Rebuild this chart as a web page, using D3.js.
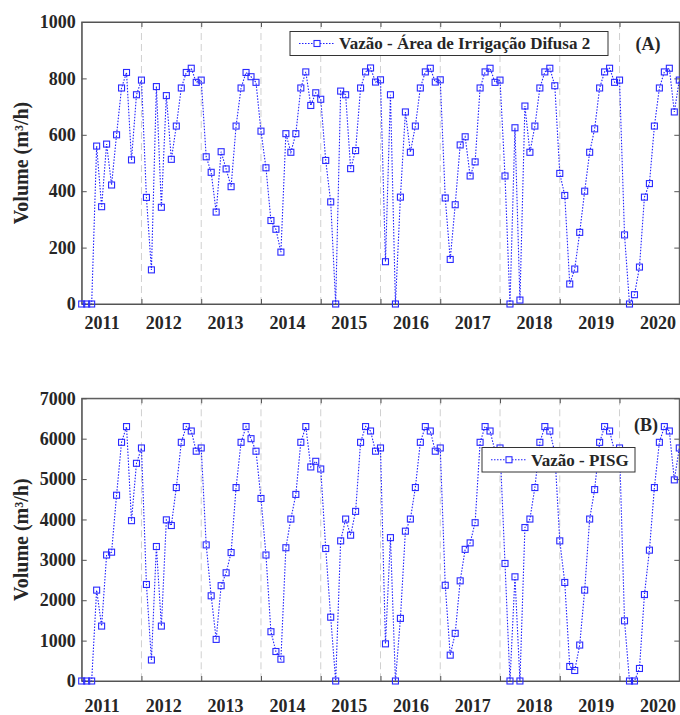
<!DOCTYPE html>
<html>
<head>
<meta charset="utf-8">
<script src="https://cdn.jsdelivr.net/npm/d3@7"></script>
<style>
  body { margin: 0; background: #fff; }
  text { font-family: "Liberation Serif", "Times New Roman", serif; font-weight: bold; fill: #262626; }
</style>
</head>
<body>
<div id="chart"></div>
<script>
// monthly flow, 121 months starting late 2010
const flowDifusa = [
  0, 0, 0, 560, 345, 567, 422, 600, 766, 821,
  511, 742, 794, 378, 121, 771, 343, 739, 513, 631,
  766, 821, 836, 786, 794, 522, 467, 326, 540, 479,
  416, 631, 766, 821, 806, 786, 613, 483, 296, 265,
  184, 604, 538, 604, 766, 823, 704, 749, 726, 509,
  362, 0, 755, 742, 480, 544, 766, 823, 837, 787,
  795, 150, 742, 0, 379, 681, 538, 631, 766, 823,
  836, 787, 795, 376, 158, 352, 564, 593, 454, 504,
  766, 823, 836, 786, 794, 454, 0, 625, 14, 702,
  538, 631, 766, 823, 836, 774, 463, 385, 71, 124,
  254, 400, 538, 621, 766, 823, 836, 786, 794, 245,
  0, 33, 131, 379, 427, 631, 766, 823, 836, 681,
  794
];
const flowPISG = [
  0, 0, 0, 2250, 1360, 3120, 3190, 4600, 5910, 6300,
  3970, 5390, 5770, 2390, 520, 3330, 1360, 3990, 3850, 4790,
  5910, 6300, 6190, 5690, 5770, 3370, 2110, 1030, 2360, 2680,
  3180, 4790, 5910, 6300, 6000, 5690, 4520, 3120, 1220, 730,
  540, 3300, 4010, 4620, 5910, 6300, 5300, 5440, 5250, 3280,
  1580, 0, 3470, 4010, 3610, 4200, 5910, 6300, 6190, 5690,
  5770, 920, 3550, 0, 1550, 3710, 4010, 4790, 5910, 6300,
  6190, 5690, 5770, 2370, 640, 1180, 2480, 3260, 3420, 3920,
  5910, 6300, 6190, 5690, 5770, 2910, 0, 2580, 0, 3800,
  4010, 4790, 5910, 6300, 6190, 5650, 3470, 2440, 360, 260,
  890, 2250, 4010, 4740, 5910, 6300, 6190, 5690, 5770, 1490,
  0, 0, 310, 2140, 3240, 4790, 5910, 6300, 6190, 4980,
  5770
];
const years = ["2011","2012","2013","2014","2015","2016","2017","2018","2019","2020"];
const yearLabelMonths = [4, 16.4, 28.8, 41.2, 53.6, 66, 78.4, 90.8, 103.2, 115.6];
const yearGridMonths = [12, 24, 36, 48, 60, 72, 84, 96, 108];

const width = 680, height = 715;
const svg = d3.select("#chart").append("svg")
    .attr("width", width).attr("height", height);

const left = 81.7, right = 679.3;
const x = d3.scaleLinear().domain([0, 120]).range([left, right]);

function drawPanel(cfg) {
    const y = d3.scaleLinear().domain([0, cfg.max]).range([cfg.bottom, cfg.top]);
    const g = svg.append("g");

    // dashed year grid
    g.selectAll("line.grid").data(yearGridMonths).enter().append("line")
        .attr("class", "grid")
        .attr("x1", d => x(d)).attr("x2", d => x(d))
        .attr("y1", cfg.top).attr("y2", cfg.bottom)
        .attr("stroke", "#d0d0d0").attr("stroke-width", 1)
        .attr("stroke-dasharray", "7,4");

    // axes with inward ticks
    const yAxis = d3.axisLeft(y).tickValues(cfg.ticks).tickSizeInner(-5).tickSizeOuter(0)
        .tickPadding(6).tickFormat(d3.format("d"));
    g.append("g").attr("transform", `translate(${left},0)`).call(yAxis);
    g.append("g").attr("transform", `translate(${right},0)`)
        .call(d3.axisRight(y).tickValues(cfg.ticks).tickSizeInner(-5).tickSizeOuter(0).tickFormat(""));
    g.append("g").attr("transform", `translate(0,${cfg.bottom})`)
        .call(d3.axisBottom(x).tickValues(yearGridMonths).tickSizeInner(-5).tickSizeOuter(0).tickFormat(""));
    g.append("g").attr("transform", `translate(0,${cfg.top})`)
        .call(d3.axisTop(x).tickValues(yearGridMonths).tickSizeInner(-5).tickSizeOuter(0).tickFormat(""));
    // year labels sit between the grid lines
    g.append("g").attr("class", "years").attr("transform", `translate(0,${cfg.bottom})`)
        .call(d3.axisBottom(x).tickValues(yearLabelMonths).tickSize(0).tickPadding(cfg.yearPad)
            .tickFormat((d, i) => years[i]))
        .select(".domain").remove();

    g.selectAll(".domain").attr("stroke", "#555");
    g.selectAll(".tick line").attr("stroke", "#555");
    g.selectAll(".tick text").attr("font-size", "18px")
        .attr("font-family", "Liberation Serif, serif").attr("font-weight", "bold").attr("fill", "#262626");

    g.append("rect")
        .attr("x", left).attr("y", cfg.top)
        .attr("width", right - left).attr("height", cfg.bottom - cfg.top)
        .attr("fill", "none").attr("stroke", "#555").attr("stroke-width", 1);

    // y label
    g.append("text")
        .attr("transform", `translate(28,${(cfg.top + cfg.bottom) / 2}) rotate(-90)`)
        .attr("text-anchor", "middle").attr("font-size", "20px")
        .text("Volume (m³/h)");

    // series
    const line = d3.line().x((d, i) => x(i)).y(d => y(d));
    g.append("path").datum(cfg.data)
        .attr("d", line).attr("fill", "none")
        .attr("stroke", "#1f1fff").attr("stroke-width", 1.1)
        .attr("stroke-dasharray", "1.5,1.5");
    g.selectAll("rect.pt").data(cfg.data).enter().append("rect")
        .attr("class", "pt")
        .attr("x", (d, i) => x(i) - 3).attr("y", d => y(d) - 3)
        .attr("width", 6).attr("height", 6)
        .attr("fill", "none").attr("stroke", "#2a2aff").attr("stroke-width", 1.1);

    // legend
    const lg = g.append("g");
    lg.append("rect")
        .attr("x", cfg.legend.x).attr("y", cfg.legend.y)
        .attr("width", cfg.legend.w).attr("height", cfg.legend.h)
        .attr("fill", "#fff").attr("stroke", "#333").attr("stroke-width", 1);
    const cy = cfg.legend.y + cfg.legend.h / 2;
    lg.append("line")
        .attr("x1", cfg.legend.x + 9).attr("x2", cfg.legend.x + 45)
        .attr("y1", cy).attr("y2", cy)
        .attr("stroke", "#1f1fff").attr("stroke-width", 1.1).attr("stroke-dasharray", "1.5,1.5");
    lg.append("rect")
        .attr("x", cfg.legend.x + 27 - 3).attr("y", cy - 3)
        .attr("width", 6).attr("height", 6)
        .attr("fill", "#fff").attr("stroke", "#2a2aff").attr("stroke-width", 1.1);
    lg.append("text")
        .attr("x", cfg.legend.x + 49).attr("y", cy).attr("dy", "0.35em")
        .attr("font-size", "17px").text(cfg.name);

    g.append("text")
        .attr("x", cfg.tag.x).attr("y", cfg.tag.y).attr("dy", "0.35em")
        .attr("text-anchor", "middle").attr("font-size", "18px")
        .text(cfg.tag.label);
}

drawPanel({
    data: flowDifusa, max: 1000, ticks: [0, 200, 400, 600, 800, 1000],
    top: 22, bottom: 304, yearPad: 12.5,
    name: "Vazão - Área de Irrigação Difusa 2",
    legend: {x: 290, y: 31.5, w: 318, h: 24},
    tag: {x: 648, y: 43.5, label: "(A)"}
});
drawPanel({
    data: flowPISG, max: 7000, ticks: [0, 1000, 2000, 3000, 4000, 5000, 6000, 7000],
    top: 398.3, bottom: 681, yearPad: 18,
    name: "Vazão - PISG",
    legend: {x: 482, y: 447.5, w: 153, h: 24.5},
    tag: {x: 646, y: 425, label: "(B)"}
});
</script>
</body>
</html>
